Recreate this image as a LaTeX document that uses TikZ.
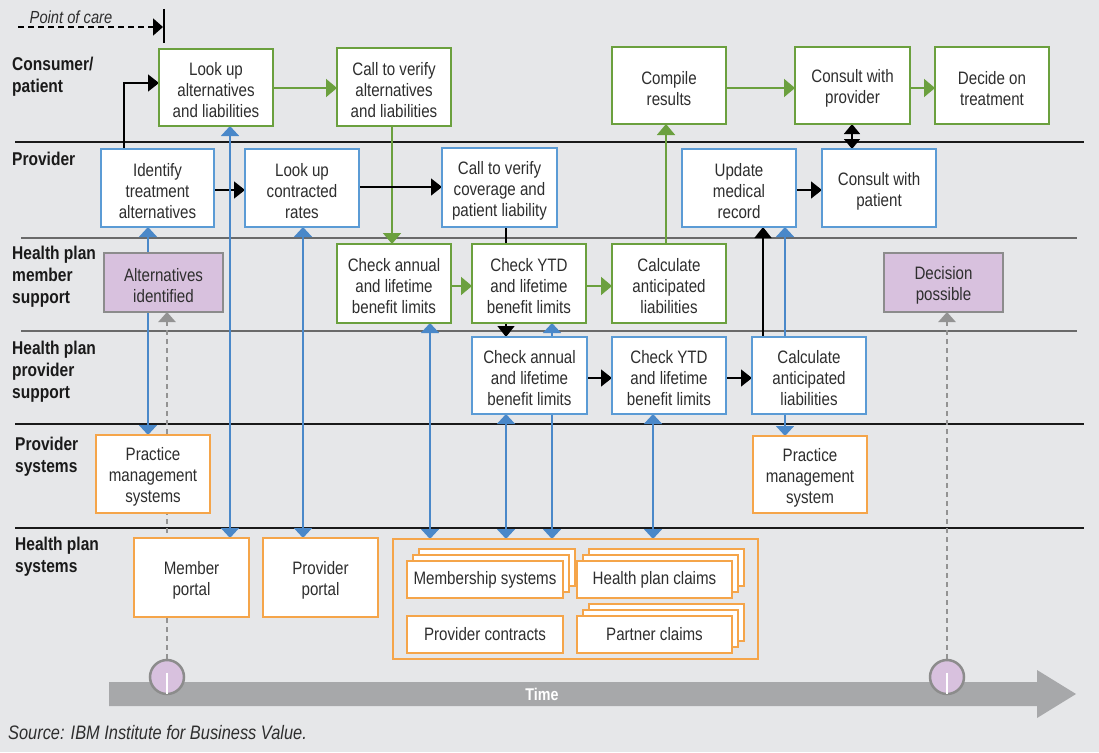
\documentclass[tikz,border=0pt]{standalone}
\usepackage{fontspec}
\setmainfont{Liberation Sans}[FakeStretch=0.84]
\usetikzlibrary{arrows.meta,shadows}

\definecolor{bgc}{HTML}{E6E7E9}
\definecolor{grn}{HTML}{6BA03E}
\definecolor{blu}{HTML}{4A88C9}
\definecolor{bluebox}{HTML}{5B9BD5}
\definecolor{org}{HTML}{F5A54A}
\definecolor{purp}{HTML}{D8C1DE}
\definecolor{pgray}{HTML}{8C8C8C}
\definecolor{tgray}{HTML}{A7A8AA}
\definecolor{dgray}{HTML}{939393}
\definecolor{txt}{HTML}{2E2E2E}
\definecolor{lbl}{HTML}{1A1A1A}
\definecolor{rule}{HTML}{1A1A1A}
\definecolor{rulegray}{HTML}{6A6A6A}

\pgfdeclarelayer{back}
\pgfdeclarelayer{wires}
\pgfsetlayers{back,wires,main}

% box given by its corners (left, top, right, bottom), y measured downwards;
% \bx sets several lines with a strut on the first, \bxs one line
\newcommand\bx[7]{\node[#1, minimum width={#5-#3}, minimum height={#6-#4}] (#2) at ({(#3+#5)/2},{(#4+#6)/2}) {\rule{0pt}{19pt}#7};}
\newcommand\bxs[7]{\node[#1, minimum width={#5-#3}, minimum height={#6-#4}] (#2) at ({(#3+#5)/2},{(#4+#6)/2}) {#7};}

\tikzset{
  box/.style={rectangle, fill=white, line width=1.6pt, inner sep=0pt, outer sep=0pt,
    align=center, text=txt, font=\fontsize{18}{21}\selectfont},
  gbox/.style={box, draw=grn},
  bbox/.style={box, draw=bluebox},
  obox/.style={box, draw=org, line width=1.5pt},
  pbox/.style={box, draw=pgray, fill=purp, line width=1.8pt},
  frame/.style={rectangle, draw=org, line width=1.5pt, inner sep=0pt, outer sep=0pt},
  stack/.style={double copy shadow={shadow xshift=6pt, shadow yshift=6pt}},
  lane/.style={font=\bfseries\fontsize{18.5}{22}\selectfont, align=left, anchor=north west,
    inner sep=0pt, text=lbl},
  bluearr/.style={draw=blu, line width=1.8pt, {Triangle[length=10pt,width=18pt]}-{Triangle[length=10pt,width=18pt]}},
  bluesgl/.style={draw=blu, line width=1.8pt, -{Triangle[length=10pt,width=18pt]}},
  blkarr/.style={draw=black, line width=1.5pt, -{Triangle[length=11pt,width=17pt]}},
  grnarr/.style={draw=grn, line width=1.8pt, -{Triangle[length=11pt,width=18pt]}},
  dasharr/.style={draw=dgray, line width=2.8pt, dash pattern=on 5pt off 4pt,
    -{Triangle[length=10pt,width=17pt]}},
  mile/.style={circle, fill=purp, draw=pgray, line width=2.5pt, minimum size=34pt, inner sep=0pt},
}

\begin{document}
\begin{tikzpicture}[x=1pt, y=-1pt]
\useasboundingbox (0,0) rectangle (1099,752);

\begin{pgfonlayer}{back}
  \fill[bgc] (0,0) rectangle (1099,752);
  % swim lane rules
  \draw[rule, line width=1.2pt] (15,142) -- (1084,142);
  \draw[rulegray, line width=1.8pt] (21,238) -- (1077,238);
  \draw[rulegray, line width=1.8pt] (21,331) -- (1077,331);
  \draw[rule, line width=1.2pt] (15,424) -- (1084,424);
  \draw[rule, line width=1.2pt] (15,528) -- (1084,528);
  % time axis
  \fill[tgray] (109,682) -- (1037,682) -- (1037,670) -- (1076,694) -- (1037,718)
    -- (1037,706) -- (109,706) -- cycle;
\end{pgfonlayer}

% point of care marker
\coordinate (pocstart) at (18,27);
\coordinate (pocend) at (163,27);
\coordinate (bartop) at (164,9);
\coordinate (barbot) at (164,43);
\node[fill=bgc, inner sep=1.5pt, text=txt, font=\itshape\fontsize{17.5}{20}\selectfont] (poc) at (71,17.5) {Point of care};

% lane labels
\node[lane] (l1) at (12,57) {Consumer/\\patient};
\node[lane] (l2) at (12,152) {Provider};
\node[lane] (l3) at (12,246) {Health plan\\member\\support};
\node[lane] (l4) at (12,341) {Health plan\\provider\\support};
\node[lane] (l5) at (15,437) {Provider\\systems};
\node[lane] (l6) at (15,537) {Health plan\\systems};

% consumer / patient
\bx{gbox}{lookalt}{159}{49}{273}{126}{Look up\\alternatives\\and liabilities}
\bx{gbox}{callalt}{337}{48}{451}{126}{Call to verify\\alternatives\\and liabilities}
\bx{gbox}{compile}{612}{47}{726}{124}{Compile\\results}
\bx{gbox}{cprovider}{795}{47}{910}{124}{Consult with\\provider}
\bx{gbox}{decide}{935}{47}{1049}{124}{Decide on\\treatment}

% provider
\bx{bbox}{identify}{101}{149}{214}{227}{Identify\\treatment\\alternatives}
\bx{bbox}{rates}{245}{149}{359}{227}{Look up\\contracted\\rates}
\bx{bbox}{coverage}{442}{148}{557}{227}{Call to verify\\coverage and\\patient liability}
\bx{bbox}{update}{682}{149}{796}{227}{Update\\medical\\record}
\bx{bbox}{cpatient}{822}{149}{936}{227}{Consult with\\patient}

% health plan member support
\bx{pbox}{altid}{104}{253}{223}{312}{Alternatives\\identified}
\bx{gbox}{mannual}{337}{244}{451}{323}{Check annual\\and lifetime\\benefit limits}
\bx{gbox}{mytd}{472}{244}{586}{323}{Check YTD\\and lifetime\\benefit limits}
\bx{gbox}{mcalc}{612}{244}{726}{323}{Calculate\\anticipated\\liabilities}
\bx{pbox}{decpos}{884}{253}{1003}{312}{Decision\\possible}

% health plan provider support
\bx{bbox}{pannual}{472}{337}{587}{414}{Check annual\\and lifetime\\benefit limits}
\bx{bbox}{pytd}{612}{337}{726}{414}{Check YTD\\and lifetime\\benefit limits}
\bx{bbox}{pcalc}{752}{337}{866}{414}{Calculate\\anticipated\\liabilities}

% provider systems
\bx{obox}{pms1}{96}{435}{210}{513}{Practice\\management\\systems}
\bx{obox}{pms2}{753}{436}{867}{513}{Practice\\management\\system}

% health plan systems
\bx{obox}{mportal}{134}{538}{249}{617}{Member\\portal}
\bx{obox}{pportal}{263}{538}{378}{617}{Provider\\portal}
\bxs{frame}{hps}{393}{539}{758}{659}{}
\bxs{obox,stack}{membership}{407}{561}{563}{598}{Membership systems}
\bxs{obox,stack}{hpclaims}{577}{561}{732}{598}{Health plan claims}
\bxs{obox}{pcontracts}{407}{616}{563}{653}{Provider contracts}
\bxs{obox,stack}{partner}{577}{616}{732}{653}{Partner claims}

% time axis label and milestones
\node[text=white, font=\bfseries\fontsize{17}{20}\selectfont] (timelbl) at (542,694) {Time};
\node[mile] (c1) at (167,677) {};
\node[mile] (c2) at (947,677) {};
\draw[white, line width=2pt] ([yshift=4pt]c1.center) -- ([yshift=1pt]c1.south);
\draw[white, line width=2pt] ([yshift=4pt]c2.center) -- ([yshift=1pt]c2.south);

\begin{pgfonlayer}{wires}
  % point of care
  \draw[black, line width=1.8pt, dash pattern=on 6pt off 4pt,
    -{Triangle[length=10pt,width=17pt]}] (pocstart) -- (pocend);
  \draw[black, line width=1.8pt] (bartop) -- (barbot);

  % milestones
  \draw[dasharr] (c1.north) -- (altid.south -| c1.north);
  \draw[dasharr] (c2.north) -- (decpos.south -| c2.north);

  % consumer flow
  \draw[grnarr] (lookalt.east |- 0,88) -- (callalt.west |- 0,88);
  \draw[grnarr] (callalt.south -| 392,0) -- (mannual.north -| 392,0);
  \draw[grnarr] (mannual.east |- 0,286) -- (mytd.west |- 0,286);
  \draw[grnarr] (mytd.east |- 0,286) -- (mcalc.west |- 0,286);
  \draw[grnarr] (mcalc.north -| 666,0) -- (compile.south -| 666,0);
  \draw[grnarr] (compile.east |- 0,88) -- (cprovider.west |- 0,88);
  \draw[grnarr] (cprovider.east |- 0,88) -- (decide.west |- 0,88);

  % provider flow
  \draw[blkarr] (identify.north -| 124,0) |- (lookalt.west |- 0,83);
  \draw[blkarr] (identify.east |- 0,190) -- (rates.west |- 0,190);
  \draw[blkarr] (rates.east |- 0,187) -- (coverage.west |- 0,187);
  \draw[blkarr] (coverage.south -| 506,0) -- (pannual.north -| 506,0);
  \draw[blkarr] (pannual.east |- 0,378) -- (pytd.west |- 0,378);
  \draw[blkarr] (pytd.east |- 0,378) -- (pcalc.west |- 0,378);
  \draw[blkarr] (pcalc.north -| 763,0) -- (update.south -| 763,0);
  \draw[blkarr] (update.east |- 0,190) -- (cpatient.west |- 0,190);
  \draw[draw=black, line width=1.5pt, {Triangle[length=10pt,width=16pt]}-{Triangle[length=10pt,width=16pt]}]
    (cprovider.south -| 852,0) -- (cpatient.north -| 852,0);

  % system data exchanges
  \draw[bluearr] (identify.south -| 148,0) -- (pms1.north -| 148,0);
  \draw[bluearr] (lookalt.south -| 230,0) -- (mportal.north -| 230,0);
  \draw[bluearr] (rates.south -| 303,0) -- (pportal.north -| 303,0);
  \draw[bluearr] (mannual.south -| 430,0) -- (hps.north -| 430,0);
  \draw[bluearr] (pannual.south -| 506,0) -- (hps.north -| 506,0);
  \draw[bluearr] (mytd.south -| 552,0) -- (hps.north -| 552,0);
  \draw[bluearr] (pytd.south -| 653,0) -- (hps.north -| 653,0);
  \draw[bluesgl] (pcalc.north -| 785,0) -- (update.south -| 785,0);
  \draw[bluesgl] (pcalc.south -| 785,0) -- (pms2.north -| 785,0);
\end{pgfonlayer}

\node[anchor=west, inner sep=0pt, text=txt, font=\itshape\fontsize{19.5}{22}\selectfont] (source) at (8,733)
  {Source: IBM Institute for Business Value.};
\end{tikzpicture}
\end{document}
